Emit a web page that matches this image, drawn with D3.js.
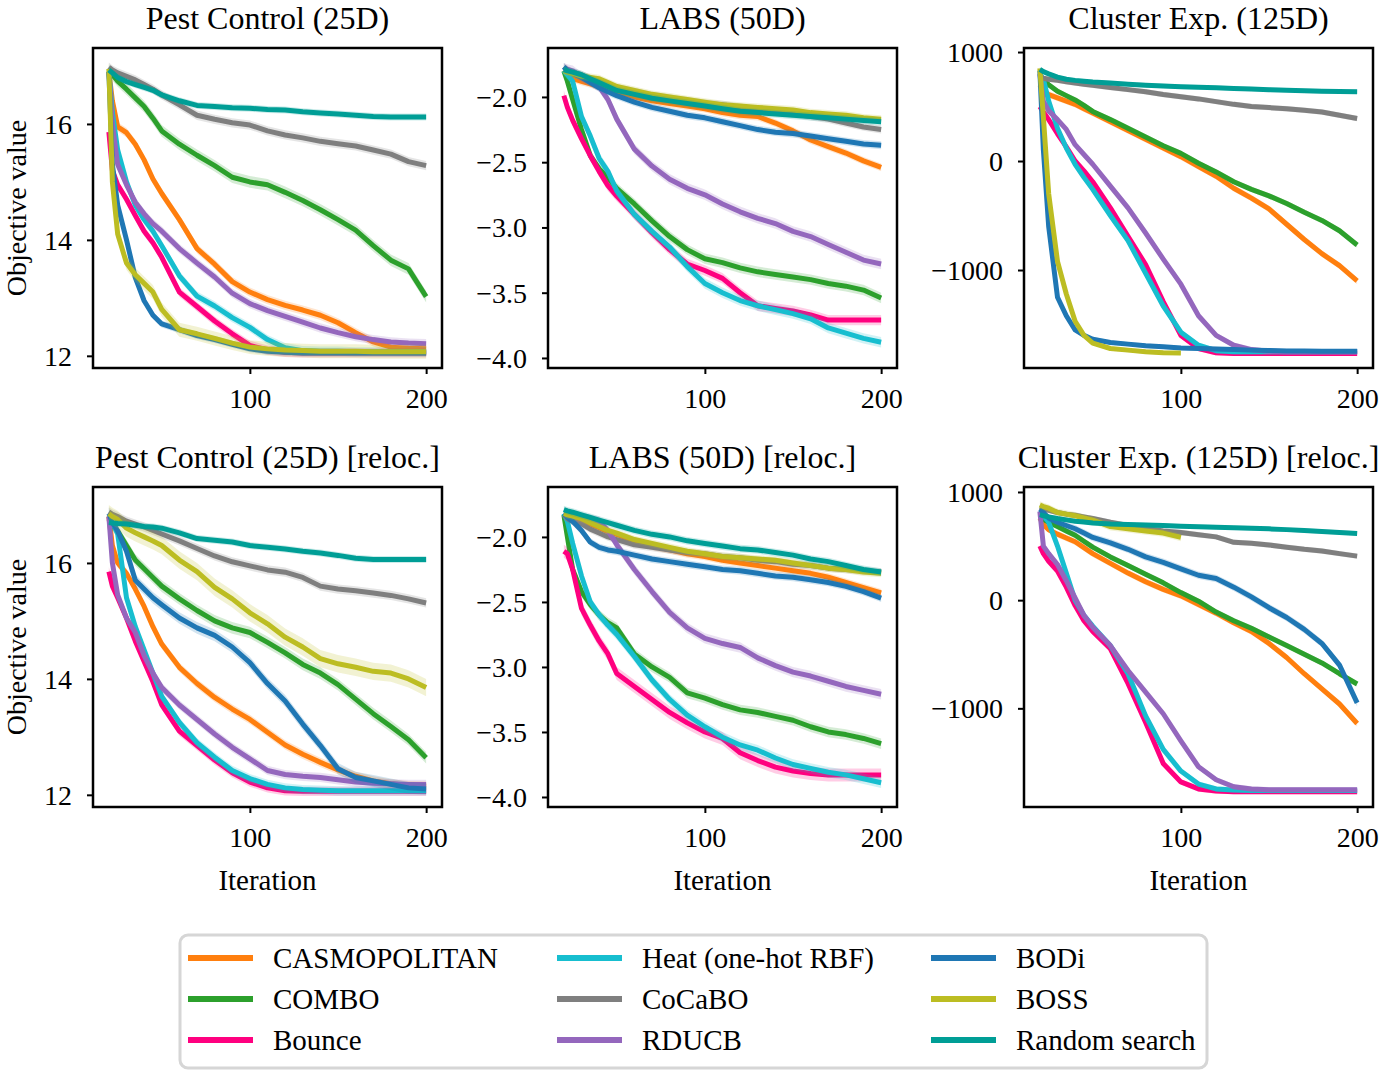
<!DOCTYPE html>
<html>
<head>
<meta charset="utf-8">
<script src="https://cdn.jsdelivr.net/npm/d3@7"></script>
<style>
  body { margin: 0; background: #fff; }
  text { font-family: "Liberation Serif", "Times New Roman", serif; fill: #000; }
</style>
</head>
<body>
<svg id="chart" width="1384" height="1071"></svg>
<script>
// methods, in plotting / legend order
const methods = ["CASMOPOLITAN", "COMBO", "Bounce", "Heat (one-hot RBF)", "CoCaBO",
  "RDUCB", "BODi", "BOSS", "Random search"];
const colors = ["#ff7f0e", "#2ca02c", "#ff007f", "#17becf", "#7f7f7f",
  "#9467bd", "#1f77b4", "#bcbd22", "#009e96"];

const iters = [20, 22, 25, 30, 35, 40, 45, 50, 60, 70, 80, 90, 100,
  110, 120, 130, 140, 150, 160, 170, 180, 190, 200];

const xTicks = [100, 200];

// Pest Control (25D)
const pest = [
  [16.9, 16.4, 15.95, 15.85, 15.65, 15.38, 15.05, 14.8, 14.35, 13.85, 13.58, 13.28, 13.1, 12.97, 12.87, 12.79, 12.7, 12.57, 12.4, 12.24, 12.15, 12.13, 12.12],
  [16.93, 16.85, 16.74, 16.6, 16.45, 16.3, 16.1, 15.88, 15.65, 15.46, 15.28, 15.08, 15.0, 14.95, 14.82, 14.68, 14.52, 14.35, 14.17, 13.9, 13.65, 13.5, 13.02],
  [15.86, 15.2, 14.95, 14.7, 14.42, 14.15, 13.95, 13.7, 13.1, 12.85, 12.6, 12.38, 12.18, 12.1, 12.06, 12.05, 12.05, 12.05, 12.05, 12.05, 12.05, 12.05, 12.05],
  [16.9, 16.2, 15.55, 15.0, 14.6, 14.35, 14.15, 13.9, 13.38, 13.03, 12.86, 12.66, 12.49, 12.28, 12.14, 12.09, 12.08, 12.08, 12.07, 12.07, 12.07, 12.07, 12.07],
  [16.98, 16.93, 16.88, 16.82, 16.76, 16.68, 16.6, 16.5, 16.33, 16.15, 16.08, 16.02, 15.98, 15.88, 15.81, 15.76, 15.7, 15.66, 15.62, 15.55, 15.48, 15.35, 15.28],
  [16.9, 16.0, 15.3, 14.95, 14.65, 14.45, 14.28, 14.15, 13.85, 13.6, 13.36, 13.08, 12.9, 12.78, 12.68, 12.58, 12.48, 12.4, 12.33, 12.28, 12.24, 12.22, 12.21],
  [16.9, 15.3, 14.6, 14.0, 13.35, 12.95, 12.7, 12.55, 12.45, 12.35, 12.28, 12.2, 12.12, 12.08, 12.06, 12.05, 12.05, 12.05, 12.05, 12.05, 12.05, 12.05, 12.05],
  [16.95, 15.0, 14.1, 13.6, 13.4, 13.25, 13.1, 12.8, 12.45, 12.38, 12.3, 12.22, 12.15, 12.12, 12.1, 12.09, 12.08, 12.08, 12.08, 12.07, 12.07, 12.07, 12.07],
  [16.93, 16.88, 16.8, 16.73, 16.68, 16.63, 16.58, 16.5, 16.4, 16.32, 16.3, 16.28, 16.27, 16.25, 16.24, 16.21, 16.19, 16.17, 16.15, 16.13, 16.12, 16.12, 16.12]
];
const pestErr = [0.08, 0.1, 0.08, 0.08, 0.08, 0.08, 0.06, 0.12, 0.06];

// LABS (50D)
const labs = [
  [-1.8, -1.83, -1.86, -1.88, -1.9, -1.92, -1.94, -1.96, -2.0, -2.03, -2.05, -2.07, -2.09, -2.12, -2.14, -2.15, -2.2, -2.26, -2.33, -2.38, -2.43, -2.49, -2.54],
  [-1.8, -1.88, -2.02, -2.25, -2.45, -2.55, -2.62, -2.7, -2.82, -2.95, -3.07, -3.17, -3.24, -3.27, -3.31, -3.34, -3.36, -3.38, -3.4, -3.43, -3.45, -3.48, -3.54],
  [-1.99, -2.08, -2.18, -2.32, -2.45, -2.57, -2.68, -2.76, -2.9, -3.04, -3.17, -3.28, -3.33, -3.39, -3.5, -3.6, -3.62, -3.64, -3.67, -3.71, -3.71, -3.71, -3.71],
  [-1.8, -1.83, -1.88, -2.15, -2.3, -2.47, -2.57, -2.72, -2.9, -3.03, -3.15, -3.3, -3.43, -3.5, -3.56, -3.6, -3.63, -3.66, -3.7, -3.77, -3.81, -3.85, -3.88],
  [-1.77, -1.79, -1.81, -1.83, -1.86, -1.88, -1.91, -1.93, -1.96, -1.99, -2.01, -2.03, -2.05, -2.06, -2.08, -2.1, -2.11, -2.13, -2.15, -2.17, -2.2, -2.23, -2.25],
  [-1.78, -1.79, -1.8, -1.85, -1.88, -1.92, -2.02, -2.17, -2.4, -2.53, -2.63, -2.7, -2.75, -2.82, -2.88, -2.93, -2.97, -3.03, -3.07, -3.13, -3.19, -3.25, -3.28],
  [-1.77, -1.8, -1.82, -1.85, -1.89, -1.93, -1.96, -1.99, -2.04, -2.08, -2.11, -2.14, -2.16, -2.19, -2.22, -2.25, -2.27, -2.28, -2.3, -2.32, -2.34, -2.36, -2.37],
  [-1.8, -1.81, -1.82, -1.84, -1.85, -1.86, -1.89, -1.92, -1.95, -1.98, -2.0, -2.02, -2.04, -2.06, -2.07, -2.08, -2.09, -2.1, -2.12, -2.13, -2.14, -2.16, -2.17],
  [-1.79, -1.8, -1.81, -1.83, -1.86, -1.89, -1.92, -1.95, -1.98, -2.01, -2.03, -2.05, -2.07, -2.09, -2.11, -2.12, -2.13, -2.14, -2.15, -2.16, -2.17, -2.18, -2.19]
];
const labsErr = [0.03, 0.04, 0.04, 0.04, 0.03, 0.04, 0.03, 0.03, 0.03];

// Cluster Exp. (125D)
const cluster = [
  [700, 640, 610, 580, 550, 520, 480, 440, 360, 280, 200, 120, 40, -50, -140, -250, -340, -440, -580, -720, -850, -960, -1100],
  [770, 740, 700, 640, 600, 560, 510, 455, 380, 300, 220, 140, 70, -20, -100, -190, -260, -320, -390, -470, -545, -640, -770],
  [500, 450, 380, 250, 130, 0, -90, -190, -430, -690, -950, -1290, -1600, -1720, -1760, -1765, -1765, -1765, -1765, -1765, -1765, -1765, -1765],
  [800, 750, 550, 300, 120, -30, -150, -260, -500, -730, -1030, -1330, -1570, -1690, -1740, -1750, -1750, -1750, -1750, -1750, -1750, -1750, -1750],
  [770, 760, 750, 740, 728, 715, 705, 695, 675, 655, 635, 610, 590, 570, 545, 520, 500, 490, 480, 465, 450, 420, 390],
  [800, 550, 460, 380, 290, 150, 60, -30, -230, -430, -660, -900, -1130, -1420, -1600, -1690, -1730, -1745, -1750, -1750, -1750, -1750, -1750],
  [830, 100, -600, -1250, -1420, -1550, -1600, -1635, -1665, -1680, -1695, -1705, -1715, -1720, -1725, -1730, -1735, -1738, -1742, -1744, -1745, -1746, -1746],
  [850, 400, -300, -920, -1220, -1470, -1600, -1670, -1720, -1735, -1750, -1758, -1762, null, null, null, null, null, null, null, null, null, null],
  [840, 820, 800, 770, 750, 740, 732, 725, 715, 705, 695, 688, 681, 677, 672, 666, 660, 655, 650, 645, 640, 637, 635]
];
const clusterErr = [30, 25, 25, 25, 25, 25, 20, 20, 20];

// Pest Control (25D) [reloc.]
const pestReloc = [
  [16.8, 16.3, 16.0, 15.82, 15.55, 15.25, 14.9, 14.6, 14.2, 13.92, 13.68, 13.48, 13.3, 13.08, 12.86, 12.7, 12.56, 12.43, 12.32, 12.24, 12.19, 12.16, 12.15],
  [16.75, 16.65, 16.55, 16.3, 16.05, 15.9, 15.75, 15.6, 15.38, 15.18, 15.0, 14.88, 14.8, 14.63, 14.45, 14.25, 14.1, 13.9, 13.65, 13.4, 13.18, 12.95, 12.64],
  [15.85, 15.6, 15.4, 15.05, 14.65, 14.3, 13.95, 13.55, 13.1, 12.85, 12.6, 12.38, 12.22, 12.12, 12.07, 12.06, 12.06, 12.06, 12.06, 12.06, 12.06, 12.06, 12.06],
  [16.8, 16.7, 16.5, 15.4, 14.9, 14.5, 14.1, 13.7, 13.25, 12.9, 12.65, 12.42, 12.28, 12.18, 12.12, 12.09, 12.08, 12.07, 12.07, 12.07, 12.07, 12.07, 12.07],
  [16.88, 16.84, 16.8, 16.72, 16.67, 16.62, 16.56, 16.5, 16.38, 16.25, 16.12, 16.02, 15.95, 15.88, 15.84, 15.75, 15.6, 15.55, 15.52, 15.48, 15.44, 15.38, 15.31],
  [16.8, 16.0, 15.45, 15.05, 14.8, 14.4, 14.1, 13.85, 13.55, 13.3, 13.05, 12.82, 12.62, 12.42, 12.35, 12.32, 12.3, 12.26, 12.22, 12.2, 12.19, 12.18, 12.18],
  [16.85, 16.7, 16.55, 16.2, 15.7, 15.55, 15.4, 15.28, 15.05, 14.88, 14.75, 14.55, 14.28, 13.92, 13.62, 13.22, 12.85, 12.45, 12.3, 12.24, 12.18, 12.12, 12.1],
  [16.85, 16.8, 16.75, 16.6, 16.52, 16.45, 16.38, 16.3, 16.05, 15.85, 15.58, 15.38, 15.14, 14.95, 14.72, 14.55, 14.35, 14.26, 14.2, 14.13, 14.1, 14.0, 13.85],
  [16.7, 16.69, 16.68, 16.67, 16.65, 16.63, 16.62, 16.6, 16.52, 16.42, 16.39, 16.36, 16.3, 16.27, 16.24, 16.2, 16.17, 16.13, 16.08, 16.06, 16.06, 16.06, 16.06]
];
const pestRelocErr = [0.08, 0.1, 0.08, 0.08, 0.08, 0.08, 0.1, 0.15, 0.06];

// LABS (50D) [reloc.]
const labsReloc = [
  [-1.82, -1.83, -1.85, -1.87, -1.9, -1.93, -1.96, -1.98, -2.03, -2.07, -2.1, -2.13, -2.15, -2.18, -2.2, -2.22, -2.24, -2.26, -2.28, -2.31, -2.35, -2.39, -2.43],
  [-1.83, -2.0, -2.25, -2.42, -2.52, -2.6, -2.66, -2.7, -2.9, -3.0, -3.08, -3.2, -3.24, -3.29, -3.33, -3.35, -3.38, -3.41, -3.46, -3.5, -3.52, -3.55, -3.59],
  [-2.11, -2.13, -2.25, -2.55, -2.68, -2.8, -2.9, -3.05, -3.15, -3.25, -3.35, -3.43, -3.5, -3.55, -3.66, -3.72, -3.77, -3.8, -3.82, -3.83, -3.83, -3.83, -3.83],
  [-1.82, -1.88, -2.05, -2.3, -2.5, -2.6, -2.68, -2.75, -2.92, -3.1, -3.25, -3.37, -3.46, -3.54, -3.6, -3.64, -3.7, -3.75, -3.78, -3.81, -3.83, -3.86, -3.89],
  [-1.83, -1.86, -1.88, -1.9, -1.94, -1.97, -2.0, -2.02, -2.06, -2.08, -2.1, -2.12, -2.13, -2.15, -2.16, -2.18, -2.19, -2.21, -2.22, -2.24, -2.25, -2.26, -2.27],
  [-1.82, -1.83, -1.84, -1.85, -1.87, -1.88, -1.95, -2.06, -2.25, -2.42, -2.58, -2.7, -2.78, -2.82, -2.85, -2.93, -2.99, -3.04, -3.07, -3.11, -3.15, -3.18, -3.21],
  [-1.82, -1.85, -1.88, -1.95, -2.04, -2.08, -2.1, -2.11, -2.14, -2.17, -2.19, -2.21, -2.23, -2.25, -2.26, -2.28, -2.3, -2.31, -2.33, -2.35, -2.38, -2.42, -2.47],
  [-1.82, -1.83, -1.84, -1.86, -1.89, -1.92, -1.95, -1.97, -2.02, -2.05, -2.08, -2.11, -2.13, -2.15, -2.16, -2.17, -2.18, -2.2, -2.22, -2.24, -2.25, -2.27, -2.28],
  [-1.79, -1.8, -1.81, -1.83, -1.85, -1.87, -1.89, -1.91, -1.95, -1.98, -2.0, -2.03, -2.05, -2.07, -2.09, -2.1, -2.12, -2.14, -2.17, -2.19, -2.22, -2.25, -2.27]
];
const labsRelocErr = [0.03, 0.04, 0.05, 0.04, 0.03, 0.04, 0.03, 0.03, 0.03];

// Cluster Exp. (125D) [reloc.]
const clusterReloc = [
  [760, 700, 650, 610, 575, 540, 485, 430, 340, 250, 170, 100, 40, -40, -120, -210, -290, -400, -530, -680, -820, -960, -1140],
  [780, 750, 720, 680, 640, 600, 545, 490, 400, 320, 240, 160, 70, -10, -110, -190, -260, -340, -420, -500, -580, -680, -775],
  [500, 430, 360, 270, 120, -50, -190, -290, -450, -770, -1130, -1510, -1680, -1745, -1765, -1770, -1770, -1770, -1770, -1770, -1770, -1770, -1770],
  [800, 780, 720, 500, 250, 0, -140, -240, -420, -680, -1070, -1380, -1580, -1700, -1745, -1755, -1760, -1760, -1760, -1760, -1760, -1760, -1760],
  [860, 845, 830, 810, 795, 785, 770, 755, 720, 690, 665, 640, 625, 605, 585, 535, 525, 510, 490, 470, 455, 430, 407],
  [820, 500, 430, 330, 180, 20, -140, -250, -420, -650, -850, -1050, -1300, -1540, -1660, -1725, -1745, -1752, -1752, -1752, -1752, -1752, -1752],
  [840, 810, 760, 720, 690, 660, 620, 580, 530, 470, 400, 350, 290, 230, 200, 120, 30, -70, -160, -270, -400, -600, -950],
  [880, 865, 850, 810, 795, 780, 760, 740, 680, 660, 640, 620, 580, null, null, null, null, null, null, null, null, null, null],
  [790, 780, 770, 755, 742, 730, 722, 714, 705, 700, 695, 689, 683, 679, 674, 670, 665, 659, 652, 644, 635, 626, 616]
];
const clusterRelocErr = [30, 25, 25, 25, 25, 25, 35, 35, 20];

const panels = [
  { title: "Pest Control (25D)", rows: pest, err: pestErr, y: [11.79, 17.31], ticks: [12, 14, 16], fmt: "d" },
  { title: "LABS (50D)", rows: labs, err: labsErr, y: [-4.077, -1.625], ticks: [-4, -3.5, -3, -2.5, -2], fmt: ".1f" },
  { title: "Cluster Exp. (125D)", rows: cluster, err: clusterErr, y: [-1899, 1037], ticks: [-1000, 0, 1000], fmt: "d" },
  { title: "Pest Control (25D) [reloc.]", rows: pestReloc, err: pestRelocErr, y: [11.79, 17.31], ticks: [12, 14, 16], fmt: "d" },
  { title: "LABS (50D) [reloc.]", rows: labsReloc, err: labsRelocErr, y: [-4.077, -1.616], ticks: [-4, -3.5, -3, -2.5, -2], fmt: ".1f" },
  { title: "Cluster Exp. (125D) [reloc.]", rows: clusterReloc, err: clusterRelocErr, y: [-1912, 1046], ticks: [-1000, 0, 1000], fmt: "d" }
];

// layout
const colLeft = [93, 548, 1024];
const rowTop = [48, 487];
const W = 349, H = 320;

const svg = d3.select("#chart");

panels.forEach((p, i) => {
  const col = i % 3, row = Math.floor(i / 3);
  const g = svg.append("g")
    .attr("transform", `translate(${colLeft[col]},${rowTop[row]})`);

  const x = d3.scaleLinear().domain([11, 209]).range([0, W]);
  const y = d3.scaleLinear().domain(p.y).range([H, 0]);

  g.append("clipPath").attr("id", "clip" + i)
    .append("rect").attr("width", W).attr("height", H);

  const plot = g.append("g").attr("clip-path", `url(#clip${i})`);

  p.rows.forEach((vals, m) => {
    const pts = iters.map((it, k) => ({ it, v: vals[k] }));
    const e = p.err[m];

    // shaded band (mean +/- std. error)
    plot.append("path")
      .datum(pts)
      .attr("fill", colors[m])
      .attr("fill-opacity", 0.2)
      .attr("d", d3.area()
        .defined(d => d.v != null)
        .x(d => x(d.it))
        .y0(d => y(d.v - e))
        .y1(d => y(d.v + e)));

    plot.append("path")
      .datum(pts)
      .attr("fill", "none")
      .attr("stroke", colors[m])
      .attr("stroke-width", 5)
      .attr("stroke-linejoin", "round")
      .attr("d", d3.line()
        .defined(d => d.v != null)
        .x(d => x(d.it))
        .y(d => y(d.v)));
  });

  // axes
  const xAxis = g.append("g")
    .attr("transform", `translate(0,${H})`)
    .call(d3.axisBottom(x).tickValues(xTicks).tickSize(6).tickPadding(14));
  const yAxis = g.append("g")
    .call(d3.axisLeft(y).tickValues(p.ticks).tickSize(6).tickPadding(15)
      .tickFormat(d3.format(p.fmt)));

  [xAxis, yAxis].forEach(a => {
    a.select(".domain").remove();
    a.selectAll(".tick line").attr("stroke", "#000").attr("stroke-width", 2);
    a.selectAll(".tick text")
      .attr("font-size", 28)
      .attr("font-family", "'Liberation Serif', 'Times New Roman', serif")
      .attr("fill", "#000");
  });
  yAxis.selectAll(".tick text").attr("dy", "0.34em");

  g.append("rect")
    .attr("width", W).attr("height", H)
    .attr("fill", "none").attr("stroke", "#000").attr("stroke-width", 2.5);

  g.append("text")
    .attr("x", W / 2).attr("y", -19)
    .attr("text-anchor", "middle")
    .attr("font-size", 32)
    .text(p.title);

  if (row === 1) {
    g.append("text")
      .attr("x", W / 2).attr("y", H + 83)
      .attr("text-anchor", "middle")
      .attr("font-size", 29)
      .text("Iteration");
  }
  if (col === 0) {
    g.append("text")
      .attr("transform", `translate(${26 - colLeft[col]},${H / 2}) rotate(-90)`)
      .attr("text-anchor", "middle")
      .attr("font-size", 28)
      .text("Objective value");
  }
});

// legend
const legend = svg.append("g");
legend.append("rect")
  .attr("x", 180).attr("y", 935)
  .attr("width", 1027).attr("height", 133)
  .attr("rx", 8)
  .attr("fill", "#fff")
  .attr("stroke", "#d6d6d6")
  .attr("stroke-width", 3);

const legX = [188, 557, 931];
const legY = [958, 999, 1040];

methods.forEach((name, m) => {
  const c = Math.floor(m / 3), r = m % 3;
  legend.append("line")
    .attr("x1", legX[c]).attr("x2", legX[c] + 65)
    .attr("y1", legY[r]).attr("y2", legY[r])
    .attr("stroke", colors[m])
    .attr("stroke-width", 6);
  legend.append("text")
    .attr("x", legX[c] + 85).attr("y", legY[r] + 10)
    .attr("font-size", 29)
    .text(name);
});
</script>
</body>
</html>
